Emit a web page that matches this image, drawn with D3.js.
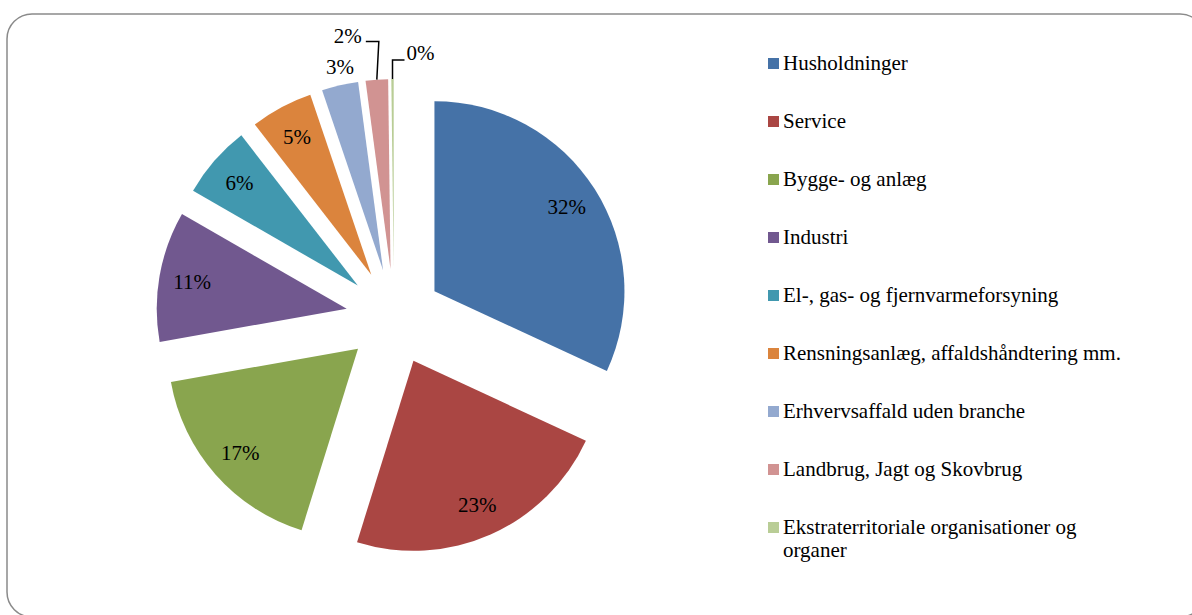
<!DOCTYPE html>
<html>
<head>
<meta charset="utf-8">
<script src="https://cdn.jsdelivr.net/npm/d3@7"></script>
<style>
    body { margin: 0; background: #fff; }
    text { font-family: "Liberation Serif", "Times New Roman", serif; fill: #000; }
</style>
</head>
<body>
<svg id="chart" width="1192" height="615"></svg>
<script>
var categories = ["Husholdninger", "Service", "Bygge- og anlæg", "Industri",
    "El-, gas- og fjernvarmeforsyning", "Rensningsanlæg, affaldshåndtering mm.",
    "Erhvervsaffald uden branche", "Landbrug, Jagt og Skovbrug",
    "Ekstraterritoriale organisationer og organer"];
var shares = [31.9, 22.9, 17.4, 11.1, 6.2, 5.3, 3.1, 1.9, 0.2];
var colors = ["#4572A7", "#AA4643", "#89A54E", "#71588F", "#4198AF",
    "#DB843D", "#93A9CF", "#D19392", "#B9CD96"];

var cx = 394, cy = 317;
var r = 190;
var explode = 48;
var labelR = 157;

var svg = d3.select("#chart");

// outer frame
svg.append("rect").attr("x", 7).attr("y", 14).attr("width", 1198).attr("height", 603)
    .attr("rx", 25).attr("ry", 25)
    .style("fill", "none").style("stroke", "#8a8a8a").style("stroke-width", 1.5);

var pie = d3.pie().sort(null).value(function (d) { return d; });
var arcs = pie(shares);
var arcGen = d3.arc().innerRadius(0).outerRadius(r);

function dir(a) {
    return [Math.sin(a), -Math.cos(a)];
}

var g = svg.append("g").attr("transform", "translate(" + cx + "," + cy + ")");

arcs.forEach(function (a, i) {
    var mid = (a.startAngle + a.endAngle) / 2;
    var v = dir(mid);
    var ox = v[0] * explode, oy = v[1] * explode;
    var sg = g.append("g").attr("transform", "translate(" + ox + "," + oy + ")");
    sg.append("path").attr("d", arcGen(a)).style("fill", colors[i]);

    var label = Math.round(shares[i]) + "%";
    if (shares[i] >= 4) {
        sg.append("text").attr("x", v[0] * labelR).attr("y", v[1] * labelR)
            .attr("text-anchor", "middle").attr("dy", "0.35em")
            .style("font-size", "21px").text(label);
    } else {
        var px = v[0] * r, py = v[1] * r;
        if (i == 6) {
            sg.append("text").attr("x", px).attr("y", py - 19)
                .attr("text-anchor", "middle").attr("dy", "0.35em")
                .style("font-size", "21px").text(label);
        } else if (i == 7) {
            sg.append("path").attr("d", "M" + px + "," + py + "L" + (px + 2) + "," + (py - 38) + "H" + (px - 11))
                .style("fill", "none").style("stroke", "#000").style("stroke-width", 1.5);
            sg.append("text").attr("x", px - 15).attr("y", py - 44)
                .attr("text-anchor", "end").attr("dy", "0.35em")
                .style("font-size", "21px").text(label);
        } else {
            sg.append("path").attr("d", "M" + px + "," + py + "V" + (py - 19) + "H" + (px + 12))
                .style("fill", "none").style("stroke", "#000").style("stroke-width", 1.5);
            sg.append("text").attr("x", px + 14).attr("y", py - 26)
                .attr("text-anchor", "start").attr("dy", "0.35em")
                .style("font-size", "21px").text(label);
        }
    }
});

// legend
var legend = svg.append("g").attr("transform", "translate(768,58)");
categories.forEach(function (c, i) {
    var item = legend.append("g").attr("transform", "translate(0," + (i * 58) + ")");
    item.append("rect").attr("width", 11).attr("height", 11).style("fill", colors[i]);
    var t = item.append("text").attr("x", 15).attr("y", 12).style("font-size", "21px");
    if (c.length > 40) {
        var w = c.split(" ");
        t.append("tspan").attr("x", 15).text(w.slice(0, -1).join(" "));
        t.append("tspan").attr("x", 15).attr("dy", 22.5).text(w[w.length - 1]);
    } else {
        t.text(c);
    }
});
</script>
</body>
</html>
